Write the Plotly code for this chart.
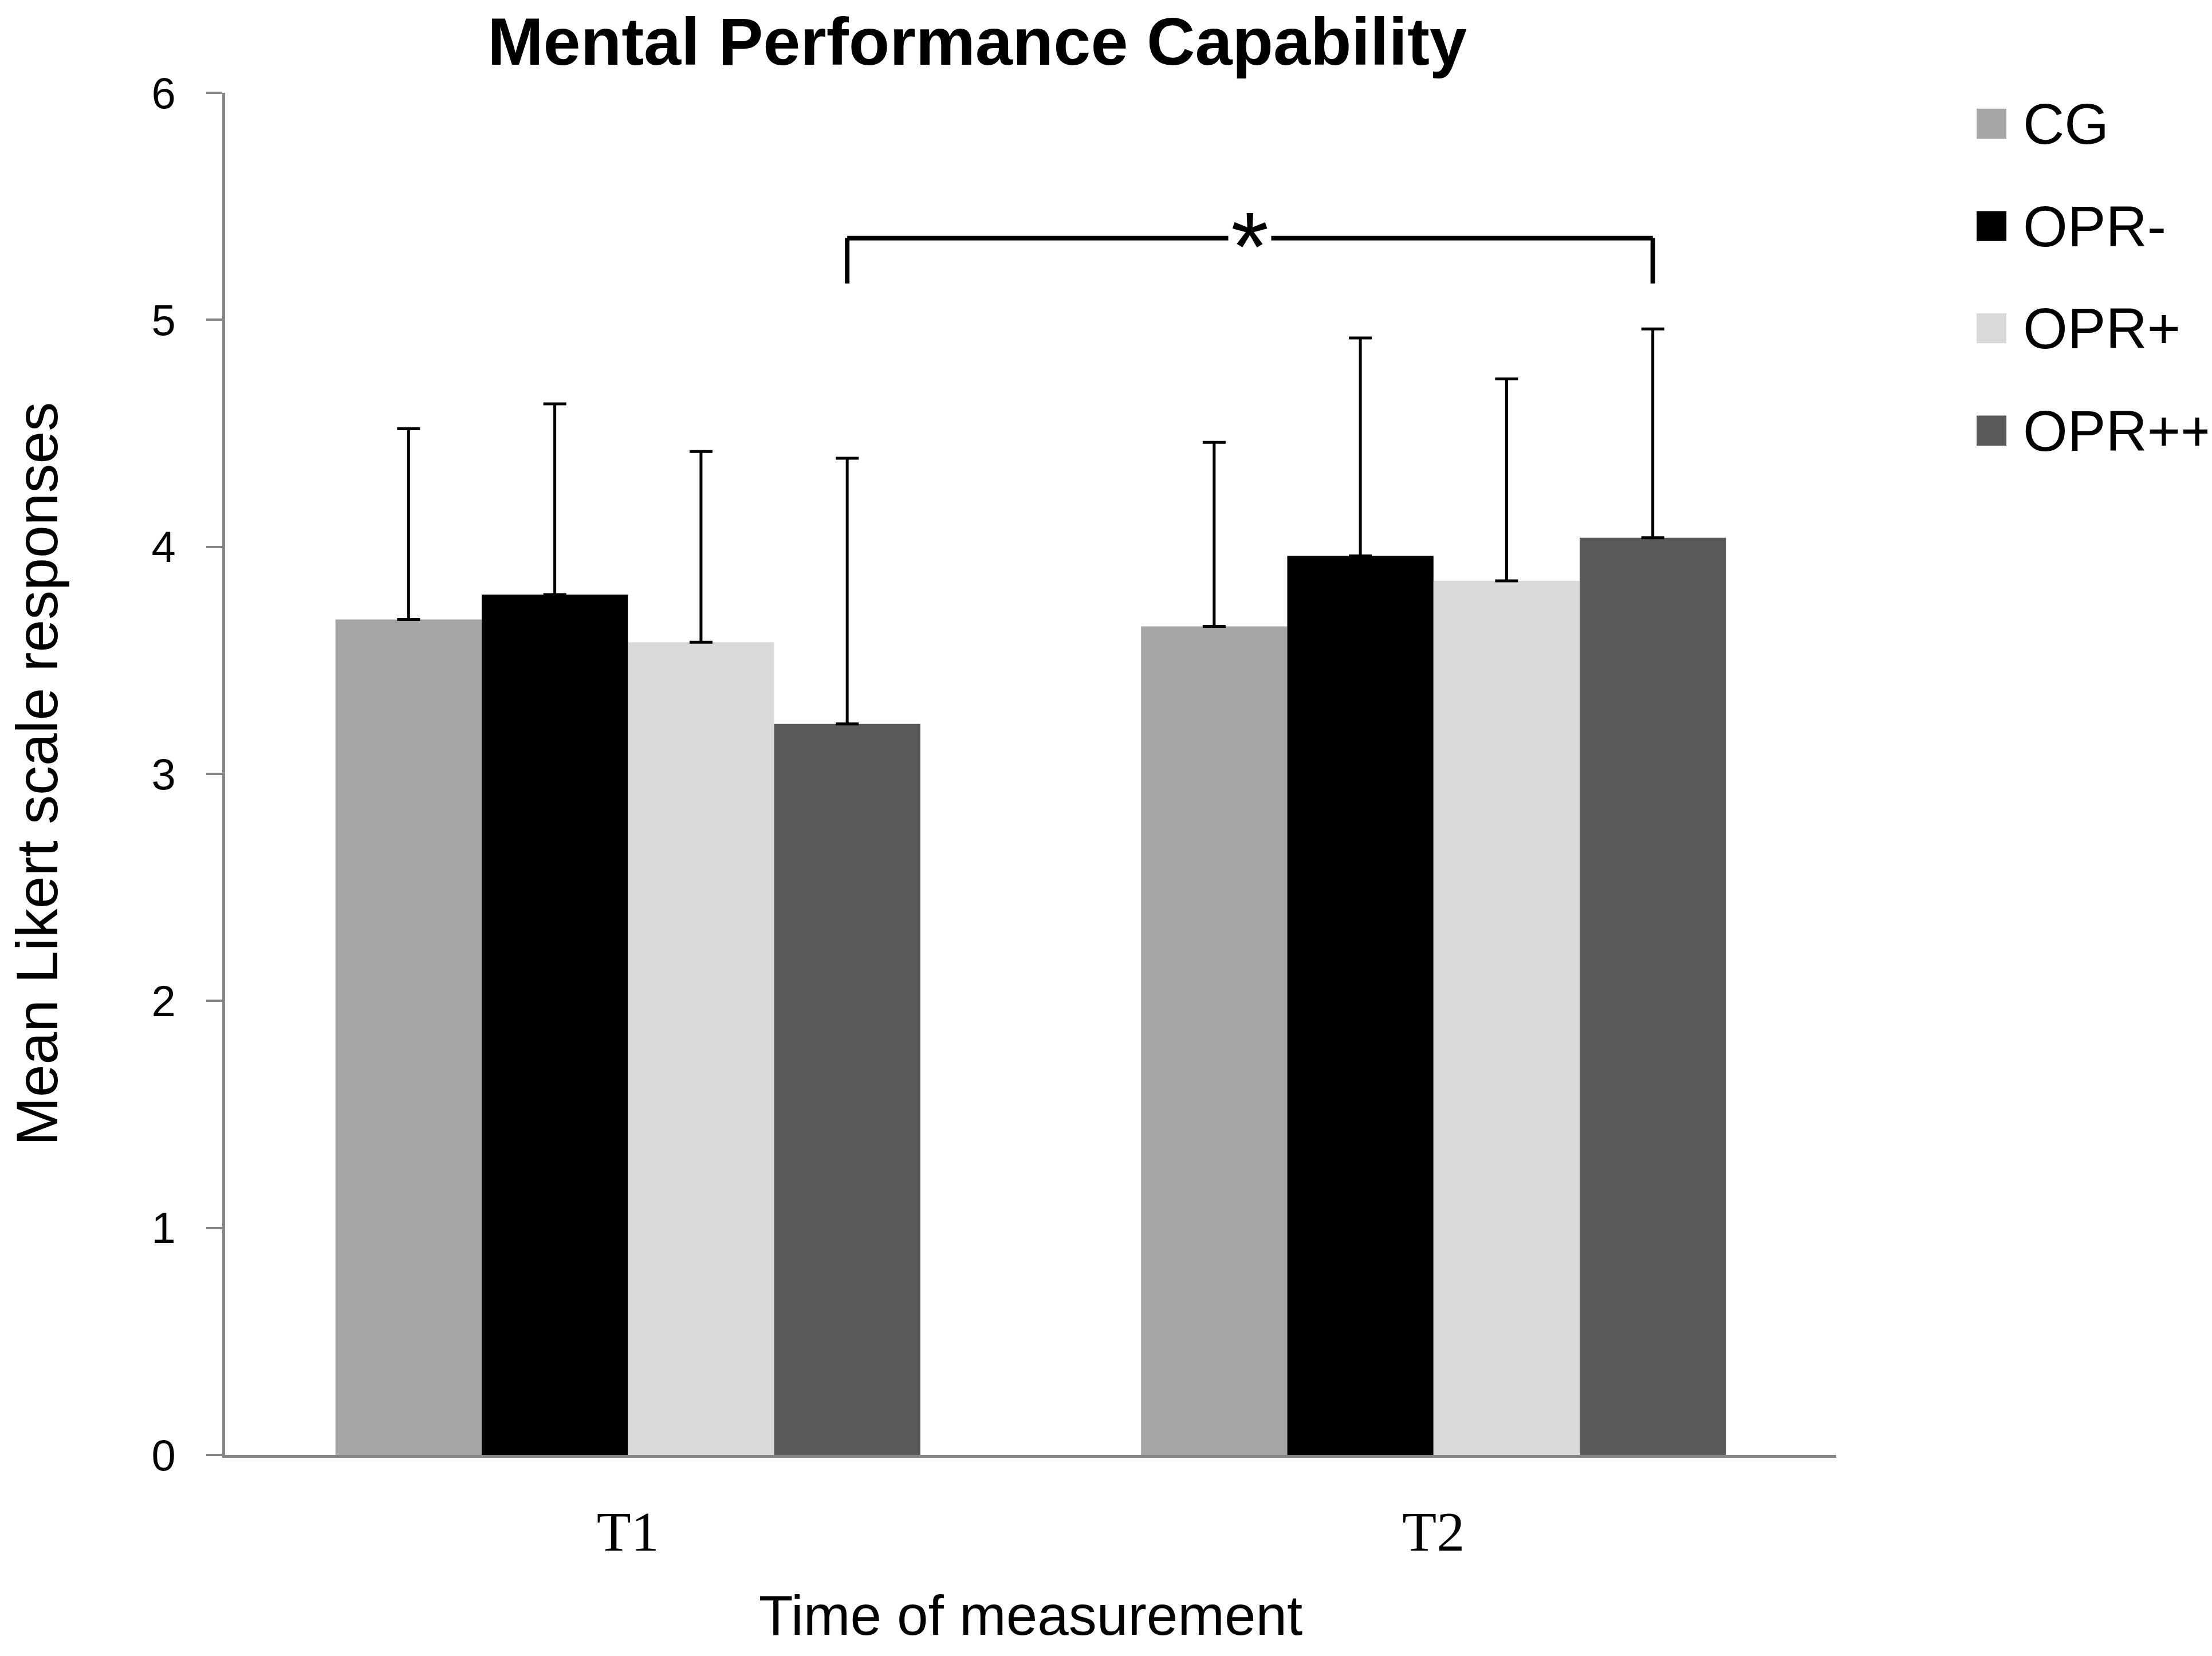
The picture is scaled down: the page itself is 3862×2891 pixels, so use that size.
import plotly.graph_objects as go

## Data

times = ['T1', 'T2']
groups = ['CG', 'OPR-', 'OPR+', 'OPR++']
colours = ['#a6a6a6', '#000000', '#d9d9d9', '#595959']

cg_mean = [3.68, 3.65]
opr_minus_mean = [3.79, 3.96]
opr_plus_mean = [3.58, 3.85]
opr_pp_mean = [3.22, 4.04]

cg_sd = [0.84, 0.81]
opr_minus_sd = [0.84, 0.96]
opr_plus_sd = [0.84, 0.89]
opr_pp_sd = [1.17, 0.92]

means = [cg_mean, opr_minus_mean, opr_plus_mean, opr_pp_mean]
sds = [cg_sd, opr_minus_sd, opr_plus_sd, opr_pp_sd]

## significance bracket between OPR++ at T1 and T2
bracket_top = 5.36
bracket_bottom = 5.16

FONT = 'Liberation Sans, Arial, sans-serif'
AXIS_GREY = '#868686'
BARGAP = 0.274

fig = go.Figure()

for name, col, m, s in zip(groups, colours, means, sds):
    fig.add_trace(go.Bar(
        x=times, y=m, name=name,
        marker=dict(color=col, line=dict(width=0)),
        error_y=dict(type='data', array=s, arrayminus=[0] * len(s), symmetric=False,
                     color='black', thickness=5, width=20),
        showlegend=False,
    ))

## bracket legs sit over the centre of the OPR++ bars
bar_w = (1 - BARGAP) / len(groups)
off = (len(groups) - 1 - (len(groups) - 1) / 2) * bar_w
x_left = 0 + off
x_right = 1 + off

line_style = dict(color='black', width=8)
fig.add_shape(type='line', x0=x_left, x1=x_right, y0=bracket_top, y1=bracket_top, line=line_style)
fig.add_shape(type='line', x0=x_left, x1=x_left, y0=bracket_top, y1=bracket_bottom, line=line_style)
fig.add_shape(type='line', x0=x_right, x1=x_right, y0=bracket_top, y1=bracket_bottom, line=line_style)
fig.add_annotation(x=(x_left + x_right) / 2, y=bracket_top, text='*', showarrow=False,
                   font=dict(family=FONT, size=170, color='black'), bgcolor='white',
                   borderpad=4, yanchor='middle', yshift=-15)

## legend drawn by hand so the swatches can match the big text
leg_x0 = 1.0871
leg_sq = 0.0185
leg_top = 0.9773
leg_step = 0.0751
leg_half = 0.011
for i, (name, col) in enumerate(zip(groups, colours)):
    yc = leg_top - i * leg_step
    fig.add_shape(type='rect', xref='paper', yref='paper',
                  x0=leg_x0, x1=leg_x0 + leg_sq, y0=yc - leg_half, y1=yc + leg_half,
                  fillcolor=col, line=dict(width=0))
    fig.add_annotation(xref='paper', yref='paper', x=leg_x0 + leg_sq + 0.0096, y=yc,
                       text=name, showarrow=False, xanchor='left', yanchor='middle',
                       font=dict(family=FONT, size=100, color='black'))

fig.update_layout(
    width=3862, height=2891,
    margin=dict(l=385, r=664, t=154, b=359),
    paper_bgcolor='white', plot_bgcolor='white',
    barmode='group', bargap=BARGAP, bargroupgap=0,
    title=dict(text='Mental Performance Capability', x=0.4397, xanchor='center',
               y=0.978, yanchor='middle', xref='container', yref='container',
               font=dict(family=FONT, size=117, color='black', weight='bold')),
    showlegend=False,
)

fig.update_xaxes(
    automargin=False,
    showline=True, linecolor=AXIS_GREY, linewidth=5, ticks='', showgrid=False,
    tickfont=dict(family='Liberation Serif, Times New Roman, serif', size=98, color='black'),
    ticklabelstandoff=44,
    title=dict(text='Time of measurement', standoff=60,
               font=dict(family=FONT, size=98, color='black')),
)
fig.update_yaxes(
    automargin=False,
    range=[0, 6], dtick=1, showline=True, linecolor=AXIS_GREY, linewidth=5,
    ticks='outside', ticklen=28, tickwidth=4, tickcolor=AXIS_GREY, showgrid=False,
    zeroline=False,
    tickfont=dict(family=FONT, size=76, color='black'),
    ticklabelstandoff=38,
    title=dict(text='Mean Likert scale responses', standoff=185,
               font=dict(family=FONT, size=102, color='black')),
)

fig.write_html('out.html')
